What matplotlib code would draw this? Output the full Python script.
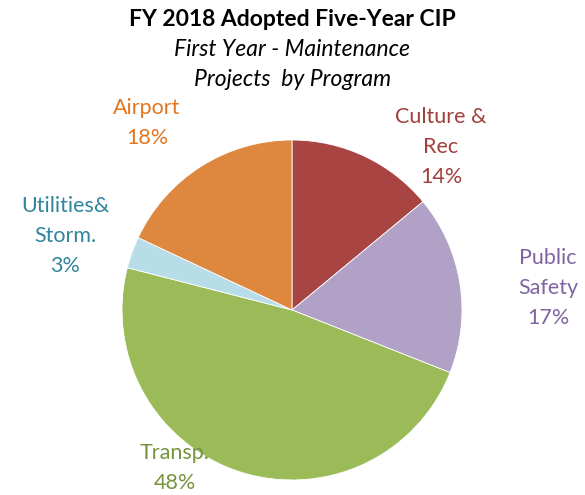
import matplotlib
matplotlib.use("Agg")
import matplotlib.pyplot as plt

categories = ["Culture &\nRec", "Public\nSafety", "Transp.", "Utilities&\nStorm.", "Airport"]
values = [14, 17, 48, 3, 18]
pct_labels = ["14%", "17%", "48%", "3%", "18%"]
slice_colors = ["#A84543", "#B2A1C7", "#9BBB59", "#B7DEE8", "#DE873E"]
label_colors = ["#A0403C", "#8064A2", "#77933C", "#31859C", "#E2761F"]
label_pos = [(441, 147), (548, 288), (175, 468), (65, 236), (147, 123)]

W, H = 585, 495
fig = plt.figure(figsize=(W / 100, H / 100), dpi=100)
ax = fig.add_axes([0, 0, 1, 1])

cx, cy, r = 292, H - 310, 170
ax.pie(values, colors=slice_colors, startangle=90, counterclock=False,
       center=(cx, cy), radius=r, frame=True,
       wedgeprops=dict(linewidth=0.6, edgecolor="white"))
ax.set_xlim(0, W)
ax.set_ylim(0, H)
ax.set_aspect("equal")
ax.axis("off")

fam = ["Lato", "DejaVu Sans"]
for cat, pct, col, (x, y) in zip(categories, pct_labels, label_colors, label_pos):
    ax.text(x, H - y, cat + "\n" + pct, color=col, fontsize=15.5, family=fam,
            ha="center", va="center", linespacing=1.6)

fig.text(0.5, 1 - 20 / H, "FY 2018 Adopted Five-Year CIP", ha="center", va="center",
         fontsize=16.5, fontweight="bold", family=fam)
fig.text(0.5, 1 - 50 / H, "First Year - Maintenance", ha="center", va="center",
         fontsize=16.5, style="italic", family=fam)
fig.text(0.5, 1 - 80 / H, "Projects  by Program", ha="center", va="center",
         fontsize=16.5, style="italic", family=fam)

fig.savefig("out.png", dpi=100)
